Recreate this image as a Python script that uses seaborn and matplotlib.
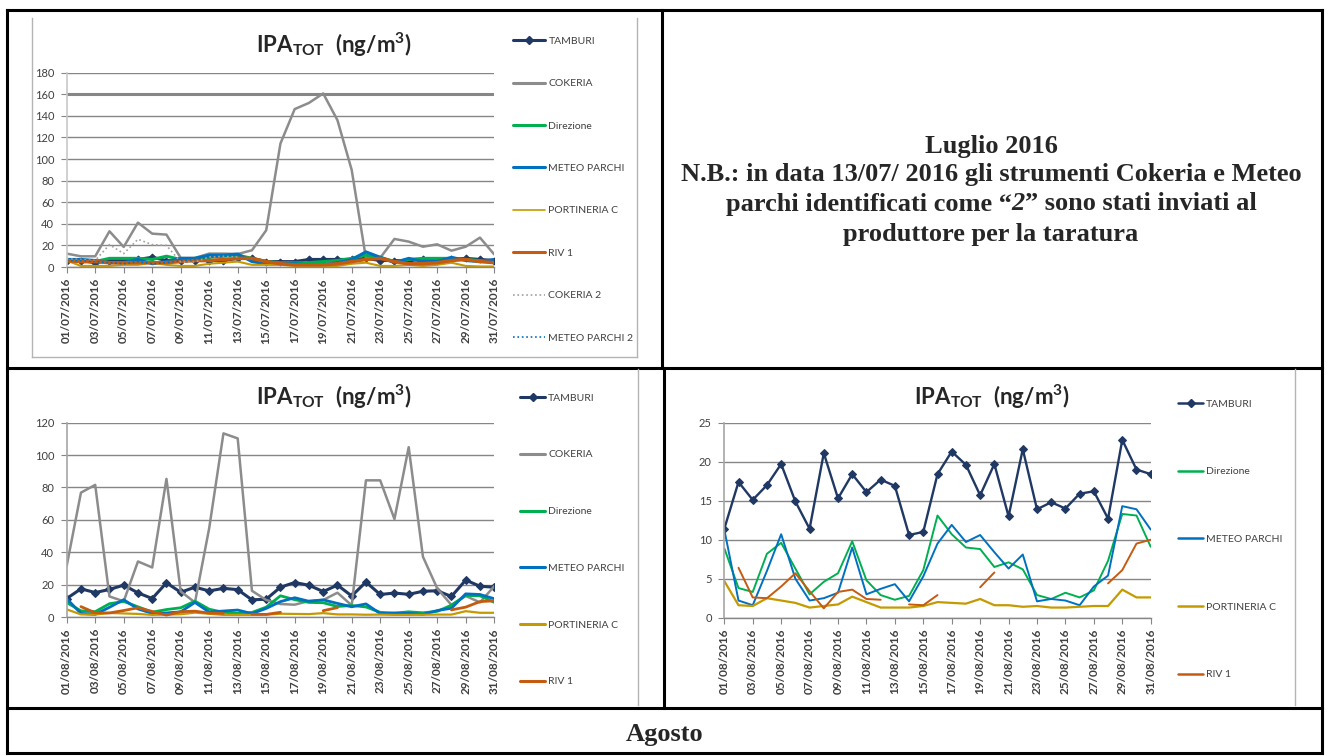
import numpy as np
import pandas as pd
import matplotlib
matplotlib.use("Agg")
import matplotlib.pyplot as plt
import seaborn as sns
from matplotlib.lines import Line2D

nan = np.nan
W, H = 1329, 756

sns.set_style("white")
plt.rcParams["font.family"] = ["Lato", "DejaVu Sans"]
plt.rcParams["mathtext.fontset"] = "custom"
plt.rcParams["mathtext.rm"] = "Lato"
plt.rcParams["mathtext.bf"] = "Lato:bold"
plt.rcParams["mathtext.it"] = "Lato:italic"
plt.rcParams["mathtext.sf"] = "Lato"

# ---------------- data ----------------
days = list(range(1, 32))
tick_days = days[::2]
july_labels = [f"{d:02d}/07/2016" for d in tick_days]
aug_labels = [f"{d:02d}/08/2016" for d in tick_days]

jul_tamburi = [6, 6, 4, 6, 6, 7, 9, 6, 6, 6, 6, 6, 8, 8, 5, 5, 5, 7, 7, 7, 7, 8, 6, 6, 6, 7, 6, 7, 8, 7, 6]
jul_cokeria = [12.4, 9.9, 9.9, 33.1, 18.6, 41.1, 30.9, 30.0, 8.4, 8.4, 12.4, 12.4, 12.0, 15.5, 34.0,
               114.4, 146.3, 152.0, 160.8, 136.0, 89.9, 8.0, 8.5, 26.0, 23.5, 18.8, 21.0, 15.1, 18.8, 27.2, 11.7]
jul_direzione = [6, 5, 5, 8, 8, 8, 7, 10, 7, 8, 9, 10, 11, 8, 5, 4, 4, 4, 5, 6, 8, 11, 9, 5, 7, 8, 8, 8, 7, 6, 5]
jul_meteo = [7, 7, 6, 4, 4, 7, 3, 5, 8, 8, 11, 11, 12, 5, 3, 3, 3, 2, 2, 4, 7, 14, 9, 4, 8, 5, 5, 9, 6, 5, 7]
jul_portineria = [6, 1, 1, 1, 2, 2, 4, 2, 1, 1, 3, 4, 5, 2, 2, 2, 1, 1, 0.5, 1, 3, 4, 1, 1, 2, 1, 2, 4, 1, 0.5, 0.5]
jul_riv1 = [6, 5, 5, 4, 4, 4, 4, 4, 5, 6, 6, 7, 8, 8, 5, 3, 2, 2, 2, 3, 5, 7, 8, 5, 3, 3, 4, 6, 7, 5, 4]
jul_cokeria2 = [7.7, 7, 6, 20.7, 12.4, 25.7, 20.7, 20, 4.6, 4.6, 9.3, 9.9, 9.3] + [nan] * 18
jul_meteo2 = [6, 6, 5, 4, 3, 5, 3, 4, 6, 7, 9, 10, 11] + [nan] * 18
jul_limit = 160

aug_tamburi = [11.4, 17.4, 15.1, 17.0, 19.7, 14.9, 11.4, 21.1, 15.3, 18.4, 16.1, 17.7, 16.9, 10.6, 11.0, 18.4,
               21.3, 19.6, 15.7, 19.7, 13.0, 21.6, 13.9, 14.8, 14.0, 15.9, 16.2, 12.7, 22.8, 19.0, 18.4]
aug_cokeria = [31.6, 76.8, 81.6, 12.7, 9.7, 34.3, 30.6, 85.3, 15.8, 9.0, 54.9, 113.4, 110.3, 16.2, 10.5, 8.0,
               7.6, 9.9, 10.5, 15.0, 7.2, 84.4, 84.4, 60.5, 104.9, 37.2, 17.7, 7.4, 13.0, 9.0, 19.0]
aug_direzione = [8.9, 3.8, 3.3, 8.2, 9.6, 6.3, 3.0, 4.6, 5.7, 9.8, 4.8, 2.9, 2.3, 2.8, 6.1, 13.1, 10.7, 9.0,
                 8.8, 6.5, 7.1, 6.2, 2.9, 2.4, 3.2, 2.6, 3.5, 7.3, 13.3, 13.1, 9.1]
aug_meteo = [11.3, 2.2, 1.6, 6.0, 10.7, 5.0, 2.2, 2.5, 3.2, 9.0, 3.0, 3.7, 4.3, 2.1, 5.3, 9.5, 11.9, 9.7,
             10.6, 8.4, 6.3, 8.1, 2.1, 2.4, 2.2, 1.6, 4.0, 5.4, 14.3, 13.9, 11.3]
aug_portineria = [4.7, 1.6, 1.5, 2.5, 2.2, 1.9, 1.3, 1.5, 1.7, 2.7, 2.0, 1.3, 1.3, 1.3, 1.5, 2.0, 1.9, 1.8,
                  2.4, 1.6, 1.6, 1.4, 1.5, 1.3, 1.3, 1.4, 1.5, 1.5, 3.6, 2.6, 2.6]
aug_riv1 = [nan, 6.4, 2.6, 2.5, 4.0, 5.7, 3.4, 1.2, 3.3, 3.6, 2.4, 2.3, nan, 1.7, 1.6, 2.9, nan, nan, 3.9,
            5.8, nan, nan, nan, nan, nan, nan, nan, 4.4, 6.1, 9.5, 10.0]

C_TAM = "#1F3864"
C_COK = "#8C8C8C"
C_DIR = "#00B050"
C_MET = "#0070C0"
C_POR = "#C59A00"
C_RIV = "#C55A11"
C_COK2 = "#A0A0A0"
TXT = "#404040"
GRID = "#868686"

fig = plt.figure(figsize=(W / 100, H / 100), dpi=100)
fig.patch.set_facecolor("white")


def px_axes(left, top, right, bottom):
    return fig.add_axes([left / W, 1 - bottom / H, (right - left) / W, (bottom - top) / H])


def draw(ax, values, color, lw, ls="-", marker=None, ms=0, z=2):
    y = pd.Series(values, dtype=float)
    df = pd.DataFrame({"day": days, "val": y, "seg": y.isna().cumsum()}).dropna()
    kw = dict(color=color, lw=lw, ls=ls, zorder=z)
    if marker:
        kw.update(marker=marker, ms=ms, mec=color, mfc=color)
    sns.lineplot(data=df, x="day", y="val", units="seg", estimator=None, ax=ax, legend=False, **kw)


def style(ax, ymax, ystep, labels, axis_color):
    ax.set_xlim(1, 31)
    ax.set_ylim(0, ymax)
    ax.set_yticks(np.arange(0, ymax + 0.1, ystep))
    ax.set_yticklabels([f"{int(v)}" for v in np.arange(0, ymax + 0.1, ystep)])
    ax.set_xticks(tick_days)
    ax.set_xticklabels(labels, rotation=90, fontsize=8.5, fontweight="bold", color=TXT)
    ax.yaxis.grid(True, color=GRID, lw=1.0)
    ax.xaxis.grid(False)
    for s in ["top", "right"]:
        ax.spines[s].set_visible(False)
    ax.spines["left"].set_color(axis_color)
    ax.spines["left"].set_linewidth(1.2)
    ax.spines["bottom"].set_color(GRID)
    ax.spines["bottom"].set_linewidth(1.0)
    ax.tick_params(axis="x", bottom=True, length=4, color=GRID, pad=4)
    ax.tick_params(axis="y", left=True, length=4, color=GRID, labelsize=8, labelcolor=TXT, pad=5)
    ax.set_xlabel("")
    ax.set_ylabel("")
    ax.set_axisbelow(True)
    ax.set_facecolor("none")


def legend(ax, entries, x, y, spacing, hlen):
    handles = []
    labels = []
    for lab, color, lw, ls, marker in entries:
        handles.append(Line2D([0], [0], color=color, lw=lw, ls=ls, marker=marker, ms=4.5, mec=color, mfc=color))
        labels.append(lab)
    leg = ax.legend(handles, labels, loc="upper left", bbox_to_anchor=(x / W, 1 - y / H),
                    bbox_transform=fig.transFigure, frameon=False, fontsize=7.5, handlelength=hlen,
                    handletextpad=0.3, labelspacing=spacing, borderpad=0, borderaxespad=0)
    for t in leg.get_texts():
        t.set_color(TXT)


TITLE = r"$\mathbf{IPA_{TOT}}$  $\mathbf{(ng/m^{3})}$"
TFS = 16

# ---------------- chart 1 : July ----------------
ax1 = px_axes(66.7, 72.7, 494.2, 267)
ax1.axhline(jul_limit, color=GRID, lw=2.2, zorder=1)
draw(ax1, jul_tamburi, C_TAM, 2.2, marker="D", ms=3.5)
draw(ax1, jul_cokeria, C_COK, 1.8)
draw(ax1, jul_direzione, C_DIR, 2.2)
draw(ax1, jul_meteo, C_MET, 2.2)
draw(ax1, jul_portineria, C_POR, 1.5)
draw(ax1, jul_riv1, C_RIV, 2.5)
draw(ax1, jul_cokeria2, C_COK2, 1.2, ls=":")
draw(ax1, jul_meteo2, C_MET, 1.2, ls=":")
style(ax1, 180, 20, july_labels, "#C8C8C8")
fig.text(334 / W, 1 - 45 / H, TITLE, ha="center", va="center", fontsize=TFS)
legend(ax1, [("TAMBURI", C_TAM, 2.2, "-", "D"), ("COKERIA", C_COK, 2.2, "-", None),
             ("Direzione", C_DIR, 2.2, "-", None), ("METEO PARCHI", C_MET, 2.2, "-", None),
             ("PORTINERIA C", C_POR, 1.2, "-", None), ("RIV 1", C_RIV, 2.2, "-", None),
             ("COKERIA 2", C_COK2, 1.2, ":", None), ("METEO PARCHI 2", C_MET, 1.2, ":", None)],
       513, 36.5, 3.18, 3.1)

# ---------------- chart 2 : August (all) ----------------
ax2 = px_axes(66.7, 422.7, 494.2, 617)
draw(ax2, aug_tamburi, C_TAM, 2.2, marker="D", ms=4.5)
draw(ax2, aug_cokeria, C_COK, 1.8)
draw(ax2, aug_direzione, C_DIR, 2.0)
draw(ax2, aug_meteo, C_MET, 2.0)
draw(ax2, aug_portineria, C_POR, 1.6)
draw(ax2, aug_riv1, C_RIV, 2.0)
style(ax2, 120, 20, aug_labels, "#A6A6A6")
fig.text(334 / W, 1 - 397 / H, TITLE, ha="center", va="center", fontsize=TFS)
legend(ax2, [("TAMBURI", C_TAM, 2.2, "-", "D"), ("COKERIA", C_COK, 2.2, "-", None),
             ("Direzione", C_DIR, 2.2, "-", None), ("METEO PARCHI", C_MET, 2.2, "-", None),
             ("PORTINERIA C", C_POR, 2.2, "-", None), ("RIV 1", C_RIV, 2.2, "-", None)],
       520, 393.5, 4.55, 2.4)

# ---------------- chart 3 : August (zoom) ----------------
ax3 = px_axes(724.3, 422.7, 1150.7, 617.7)
draw(ax3, aug_tamburi, C_TAM, 1.7, marker="D", ms=4.5)
draw(ax3, aug_direzione, C_DIR, 1.4)
draw(ax3, aug_meteo, C_MET, 1.4)
draw(ax3, aug_portineria, C_POR, 1.6)
draw(ax3, aug_riv1, C_RIV, 1.4)
style(ax3, 25, 5, aug_labels, "#A6A6A6")
fig.text(992 / W, 1 - 397 / H, TITLE, ha="center", va="center", fontsize=TFS)
legend(ax3, [("TAMBURI", C_TAM, 1.8, "-", "D"), ("Direzione", C_DIR, 1.8, "-", None),
             ("METEO PARCHI", C_MET, 1.8, "-", None), ("PORTINERIA C", C_POR, 1.8, "-", None),
             ("RIV 1", C_RIV, 1.8, "-", None)],
       1178, 399.5, 5.6, 2.4)


# ---------------- table frame ----------------
def fline(x1, y1, x2, y2, color="black", lw=2.2):
    fig.add_artist(Line2D([x1 / W, x2 / W], [1 - y1 / H, 1 - y2 / H], transform=fig.transFigure,
                          color=color, lw=lw, solid_capstyle="projecting"))


fline(7, 9.5, 1322, 9.5)
fline(7, 9.5, 7, 753)
fline(1322, 9.5, 1322, 753)
fline(7, 753, 1322, 753)
fline(7, 367.7, 1322, 367.7)
fline(7, 708, 1322, 708)
fline(662, 9.5, 662, 367.7)
fline(664, 367.7, 664, 708)

# chart frames (light gray)
FR = "#B4B4B4"
fline(32, 18, 32, 357, FR, 1.0)
fline(32, 357, 637, 357, FR, 1.0)
fline(637, 18, 637, 357, FR, 1.0)
fline(638, 369, 638, 705, FR, 1.0)
fline(1295, 369, 1295, 705, FR, 1.0)

# ---------------- text cells ----------------
SERIF = ["Liberation Serif", "DejaVu Serif"]
fs_txt = 19
cx = 991
fig.text(cx / W, 1 - 146 / H, "Luglio 2016", ha="center", va="center", fontsize=fs_txt,
         fontweight="bold", family=SERIF)
fig.text(cx / W, 1 - 175 / H, "N.B.: in data 13/07/ 2016 gli strumenti Cokeria e Meteo", ha="center",
         va="center", fontsize=fs_txt, fontweight="bold", family=SERIF)
fig.text(cx / W, 1 - 234 / H, "produttore per la taratura", ha="center", va="center", fontsize=fs_txt,
         fontweight="bold", family=SERIF)

# line with italic "2"
parts = [("parchi identificati come \u201c", "normal"), ("2", "italic"),
         ("\u201d sono stati inviati al", "normal")]
t0 = fig.text(cx / W, 1 - 204 / H, parts[0][0], ha="left", va="center", fontsize=fs_txt,
              fontweight="bold", family=SERIF, style=parts[0][1])
pieces = [t0]
for s, st in parts[1:]:
    nxt = plt.annotate(s, xy=(1, 0), xycoords=pieces[-1], va="bottom", ha="left", fontsize=fs_txt,
                       fontweight="bold", family=SERIF, style=st, annotation_clip=False)
    pieces.append(nxt)

fig.text(665 / W, 1 - 735 / H, "Agosto", ha="center", va="center", fontsize=fs_txt, fontweight="bold",
         family=SERIF)

fig.canvas.draw()
r = fig.canvas.get_renderer()
x_left = pieces[0].get_window_extent(r).x0
x_right = pieces[-1].get_window_extent(r).x1
total = x_right - x_left
t0.set_x((cx - total / 2) / W)

fig.savefig("out.png", dpi=100, facecolor="white")
